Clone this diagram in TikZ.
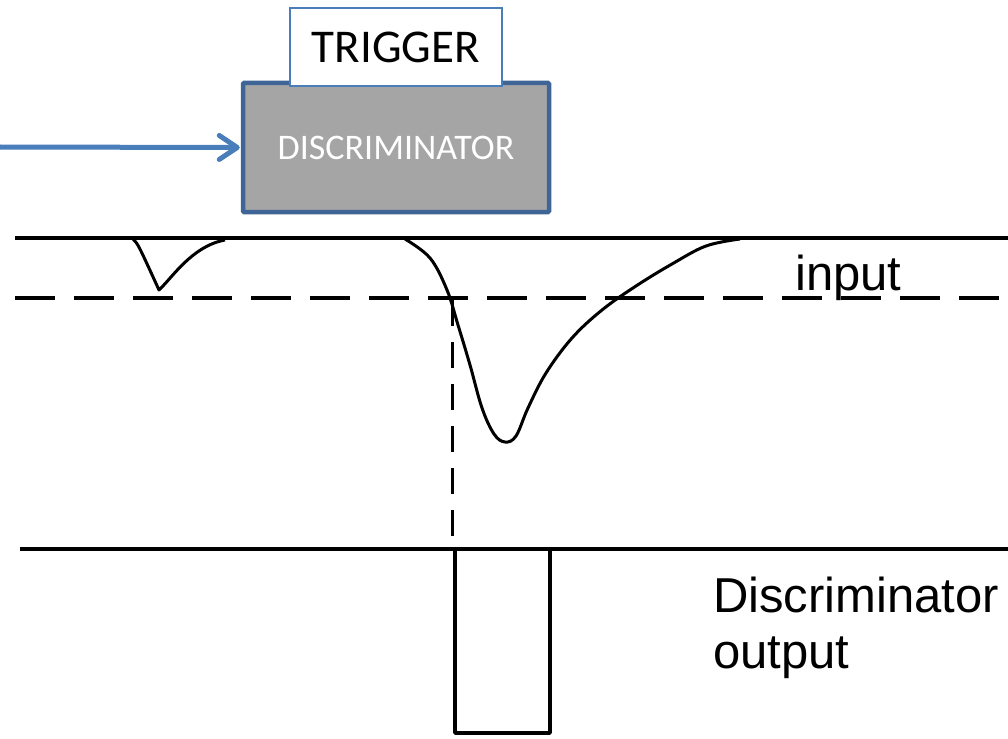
\documentclass[tikz,border=0pt]{standalone}
\usepackage{fontspec}
\setmainfont{Liberation Sans}
\newfontfamily\calib{Carlito}
\usetikzlibrary{arrows.meta}
\definecolor{pptblue}{HTML}{4A7EBB}
\definecolor{boxedge}{HTML}{3F6596}
\definecolor{boxfill}{HTML}{A5A5A5}
\tikzset{
  sigline/.style={line width=4.5pt, black},
  thinsig/.style={line width=3pt, black},
  threshold/.style={line width=4.5pt, black, dash pattern=on 40pt off 19pt},
  vdash/.style={line width=3pt, black, dash pattern=on 26pt off 16pt},
  lbl/.style={font=\fontsize{49}{56}\selectfont, text=black, inner sep=0pt, anchor=base west, align=left},
}
\begin{document}
\begin{tikzpicture}[x=1pt,y=-1pt]
\useasboundingbox (0,0) rectangle (1008,738);
% discriminator box
\node (disc) [draw=boxedge, line width=4.5pt, fill=boxfill, rounded corners=1pt,
  minimum width=306pt, minimum height=129pt, inner sep=0pt,
  text=white, font=\calib\fontsize{36}{40}\selectfont] at (396,147.5) {DISCRIMINATOR};
\node (trig) [draw=pptblue, line width=1.5pt, fill=white, minimum width=212pt, minimum height=78pt,
  inner sep=0pt, font=\calib\fontsize{47}{52}\selectfont] at (396,47) {TRIGGER};
\coordinate (src) at (0,147);
\draw[pptblue, line width=5pt, -{Straight Barb[length=18pt,width=24pt,line cap=round,line join=round]}] (src) -- ([xshift=-1pt]disc.west);
% input baseline and threshold
\coordinate (tl) at (15,238);
\coordinate (tr) at (1008,238);
\draw[sigline] (tl) -- (tr);
\coordinate (dl) at (15,298);
\coordinate (dr) at (1008,298);
\draw[threshold] (dl) -- (dr);
% small pulse
\draw[thinsig, line join=round] (133,239) .. controls (138,244) .. (159,290) .. controls (172,278) and (192,246) .. (225,240);
% big pulse
\draw[thinsig] plot[smooth, tension=0.6] coordinates {(405,239) (430,258) (447,290) (458,325) (470,365) (482,408) (494,434) (505,442) (516,436) (528,408) (546,373) (572,338) (602,310) (636,286) (672,264) (706,246) (740,239)};
% vertical dashed
\coordinate (vt) at (452,300);
\coordinate (vb) at (452,548);
\draw[vdash] (vt) -- (vb);
% output baseline and pulse
\coordinate (bl) at (20,549);
\coordinate (br) at (1008,549);
\draw[sigline] (bl) -- (br);
\draw[line width=3.5pt, black, line join=round] (455,549) -- (455,733) -- (550,733) -- (550,549);
% labels
\node (inlbl) [lbl] at (795,290) {input};
\node (outlbl) [lbl] at (713,668) {Discriminator\\output};
\end{tikzpicture}
\end{document}
